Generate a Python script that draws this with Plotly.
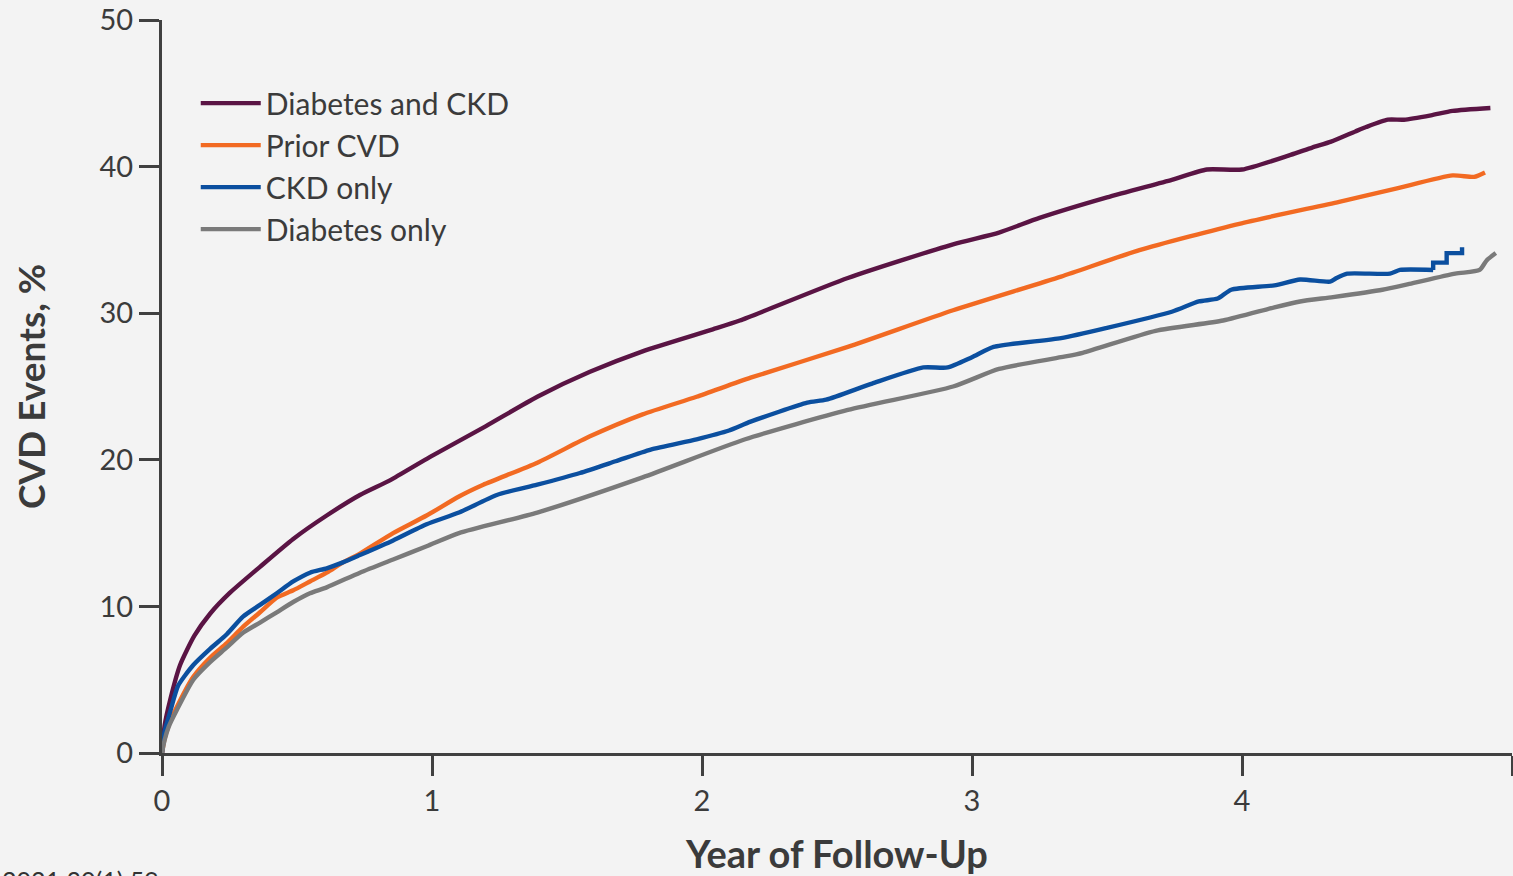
import plotly.graph_objects as go

# ---- data ----
dm_ckd_t = [0, 0.01, 0.03, 0.067, 0.12, 0.178, 0.25, 0.363, 0.486, 0.61, 0.733, 0.844, 0.993,
            1.2, 1.39, 1.585, 1.78, 2.04, 2.14, 2.54, 2.93, 3.1, 3.25, 3.5, 3.74, 3.87, 4.0,
            4.18, 4.26, 4.33, 4.42, 4.46, 4.54, 4.6, 4.7, 4.78, 4.92]
dm_ckd_v = [0, 1.9, 3.6, 6.0, 8.0, 9.5, 10.9, 12.7, 14.6, 16.2, 17.6, 18.6, 20.2,
            22.3, 24.3, 26.0, 27.4, 28.9, 29.5, 32.4, 34.7, 35.5, 36.5, 37.9, 39.1, 39.8, 39.8,
            40.8, 41.3, 41.7, 42.4, 42.7, 43.2, 43.2, 43.5, 43.8, 44.0]

cvd_t = [0, 0.01, 0.025, 0.054, 0.116, 0.178, 0.24, 0.30, 0.363, 0.425, 0.486, 0.548, 0.61,
         0.67, 0.733, 0.856, 0.98, 1.10, 1.19, 1.39, 1.585, 1.78, 1.98, 2.18, 2.54, 2.93,
         3.33, 3.62, 3.99, 4.36, 4.57, 4.78, 4.86, 4.90]
cvd_v = [0, 1.0, 1.9, 3.1, 5.2, 6.5, 7.5, 8.6, 9.6, 10.6, 11.1, 11.7, 12.3,
         13.0, 13.6, 15.0, 16.2, 17.5, 18.3, 19.8, 21.6, 23.1, 24.3, 25.6, 27.7, 30.2,
         32.5, 34.3, 36.1, 37.6, 38.5, 39.4, 39.3, 39.6]

# CKD only: smooth part, then the step-wise tail
ckd_t = [0, 0.01, 0.03, 0.06, 0.116, 0.178, 0.24, 0.30, 0.363, 0.425, 0.486, 0.548, 0.61,
         0.67, 0.733, 0.856, 0.98, 1.10, 1.24, 1.39, 1.548, 1.68, 1.81, 1.98, 2.10, 2.18,
         2.39, 2.46, 2.63, 2.82, 2.91, 3.0, 3.08, 3.33, 3.5, 3.74, 3.84, 3.91, 3.96, 4.12,
         4.215, 4.326, 4.35, 4.39, 4.548, 4.585, 4.708]
ckd_v = [0, 1.5, 2.8, 4.6, 6.0, 7.1, 8.1, 9.3, 10.1, 10.9, 11.7, 12.3, 12.6,
         13.0, 13.5, 14.5, 15.6, 16.4, 17.6, 18.3, 19.1, 19.9, 20.7, 21.4, 22.0, 22.6,
         23.9, 24.1, 25.2, 26.3, 26.3, 27.0, 27.7, 28.3, 29.0, 30.1, 30.8, 31.0, 31.6, 31.9,
         32.3, 32.15, 32.4, 32.7, 32.7, 32.95, 32.95]
ckd_tail_t = [4.708, 4.708, 4.758, 4.758, 4.815, 4.815]
ckd_tail_v = [32.95, 33.45, 33.45, 34.1, 34.1, 34.5]

dm_t = [0, 0.01, 0.025, 0.054, 0.116, 0.178, 0.24, 0.30, 0.363, 0.425, 0.486, 0.548, 0.61,
        0.733, 0.856, 0.98, 1.10, 1.39, 1.78, 2.16, 2.54, 2.93, 3.10, 3.33, 3.41, 3.68,
        3.93, 4.12, 4.215, 4.337, 4.52, 4.62, 4.79, 4.88, 4.906, 4.94]
dm_v = [0, 0.9, 1.8, 2.9, 5.0, 6.2, 7.2, 8.2, 8.9, 9.6, 10.3, 10.9, 11.3,
        12.3, 13.2, 14.1, 15.0, 16.4, 18.8, 21.4, 23.4, 25.0, 26.2, 27.0, 27.3, 28.8,
        29.5, 30.4, 30.8, 31.1, 31.6, 32.0, 32.7, 32.95, 33.6, 34.1]

series_names = ["Diabetes and CKD", "Prior CVD", "CKD only", "Diabetes only"]
series_colors = ["#5a1444", "#f26a22", "#0b4f9f", "#7a7a7a"]
x_ticks = [0, 1, 2, 3, 4, 5]
y_ticks = [0, 10, 20, 30, 40, 50]

FONT = "Lato"
TXT = "#3b3b3b"
AX = "#404040"
LW = 4.4

fig = go.Figure()
for name, color, t, v in zip(series_names, series_colors,
                             [dm_ckd_t, cvd_t, ckd_t, dm_t],
                             [dm_ckd_v, cvd_v, ckd_v, dm_v]):
    fig.add_trace(go.Scatter(x=t, y=v, mode="lines", name=name, legendgroup=name,
                             line=dict(color=color, width=LW, shape="spline", smoothing=0.6),
                             cliponaxis=False))
    if name == "CKD only":
        fig.add_trace(go.Scatter(x=ckd_tail_t, y=ckd_tail_v, mode="lines", name=name,
                                 legendgroup=name, showlegend=False,
                                 line=dict(color=color, width=LW), cliponaxis=False))

axis_common = dict(showgrid=False, zeroline=False, showline=True, linewidth=3, linecolor=AX,
                   ticks="outside", ticklen=20, tickwidth=3, tickcolor=AX,
                   tickfont=dict(family=FONT, size=29, color=TXT))

fig.update_layout(
    width=1513, height=876,
    margin=dict(l=162, r=1, t=20, b=123),
    paper_bgcolor="#f3f3f3", plot_bgcolor="rgba(0,0,0,0)",
    font=dict(family=FONT, color=TXT),
    showlegend=True,
    legend=dict(x=0.025, y=0.922, xanchor="left", yanchor="top", itemwidth=60,
                bgcolor="rgba(0,0,0,0)", font=dict(family=FONT, size=30, color=TXT),
                tracegroupgap=0),
    xaxis=dict(range=[0, 5], tickvals=x_ticks, **axis_common,
               title=dict(text="<b>Year of Follow-Up</b>", standoff=27,
                          font=dict(family=FONT, size=38, color=TXT))),
    yaxis=dict(range=[0, 50], tickvals=y_ticks, **axis_common,
               title=dict(text="<b>CVD Events, %</b>", standoff=43,
                          font=dict(family=FONT, size=37, color=TXT))),
)

fig.add_annotation(text="2021;30(1):59", xref="paper", yref="paper",
                   x=-0.12, y=-0.150, xanchor="left", yanchor="top", showarrow=False,
                   font=dict(family=FONT, size=25, color="#333333"))

fig.write_html("out.html", config={"displayModeBar": False},
               post_script="document.body.style.margin='0';document.body.style.overflow='hidden';")
